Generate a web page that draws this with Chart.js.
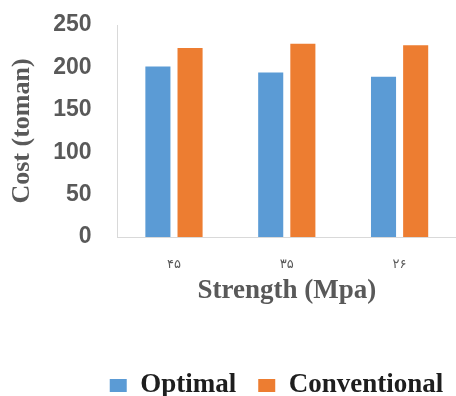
<!DOCTYPE html>
<html>
<head>
<meta charset="utf-8">
<script src="https://cdn.jsdelivr.net/npm/chart.js@4"></script>
<style>
  html, body { margin: 0; padding: 0; background: #fff; }
  #wrap { width: 456px; height: 396px; }
</style>
</head>
<body>
<div id="wrap"><canvas id="c" width="456" height="396"></canvas></div>
<script>
// Strength classes (Persian digits) and costs per design method
const categories = ['۴۵', '۳۵', '۲۶'];
const optimal = [201, 194, 189];
const conventional = [223, 228, 226];
const yTicks = [0, 50, 100, 150, 200, 250];

const gray = '#595959';
const serif = '"Liberation Serif", "Times New Roman", serif';

// nudge the legend row to the right so it sits under the plot
const legendOffset = {
  id: 'legendOffset',
  afterLayout(chart) {
    const lg = chart.legend;
    if (lg) { lg.left += 45; lg.right += 45; }
  }
};

new Chart(document.getElementById('c'), {
  type: 'bar',
  data: {
    labels: categories,
    datasets: [
      { label: 'Optimal', data: optimal, backgroundColor: '#5B9BD5',
        categoryPercentage: 0.57, barPercentage: 0.78 },
      { label: 'Conventional', data: conventional, backgroundColor: '#ED7D31',
        categoryPercentage: 0.57, barPercentage: 0.78 }
    ]
  },
  plugins: [legendOffset],
  options: {
    responsive: false,
    animation: false,
    layout: { padding: { top: 0, right: 0, left: 7, bottom: -13 } },
    plugins: {
      tooltip: { enabled: false },
      legend: {
        position: 'bottom',
        labels: {
          color: '#1e1e1e',
          font: { family: serif, size: 27, weight: 'bold' },
          boxWidth: 17, boxHeight: 13,
          padding: 22
        }
      }
    },
    scales: {
      x: {
        grid: { display: false, drawTicks: false },
        border: { display: true, color: '#d9d9d9', width: 1 },
        ticks: { color: gray, font: { family: '"DejaVu Sans", sans-serif', size: 13 }, padding: 20 },
        title: {
          display: true, text: 'Strength (Mpa)', color: gray,
          font: { family: serif, size: 27, weight: 'bold' },
          padding: { top: -18, bottom: 43 }
        }
      },
      y: {
        min: 0, max: 250,
        afterBuildTicks: (s) => { s.ticks = yTicks.map(v => ({ value: v })); },
        // keep the top of the plot close to the 250 label
        afterFit: (s) => { s.paddingTop = 25; },
        grid: { display: false, drawTicks: false },
        border: { display: true, color: '#d9d9d9', width: 1 },
        ticks: { color: gray, font: { family: '"Liberation Sans", Arial, sans-serif', size: 23, weight: 'bold' }, padding: 26 },
        title: {
          display: true, text: 'Cost (toman)', color: gray,
          font: { family: serif, size: 26, weight: 'bold' },
          padding: { top: 0, bottom: -11 }
        }
      }
    }
  }
});
</script>
</body>
</html>
